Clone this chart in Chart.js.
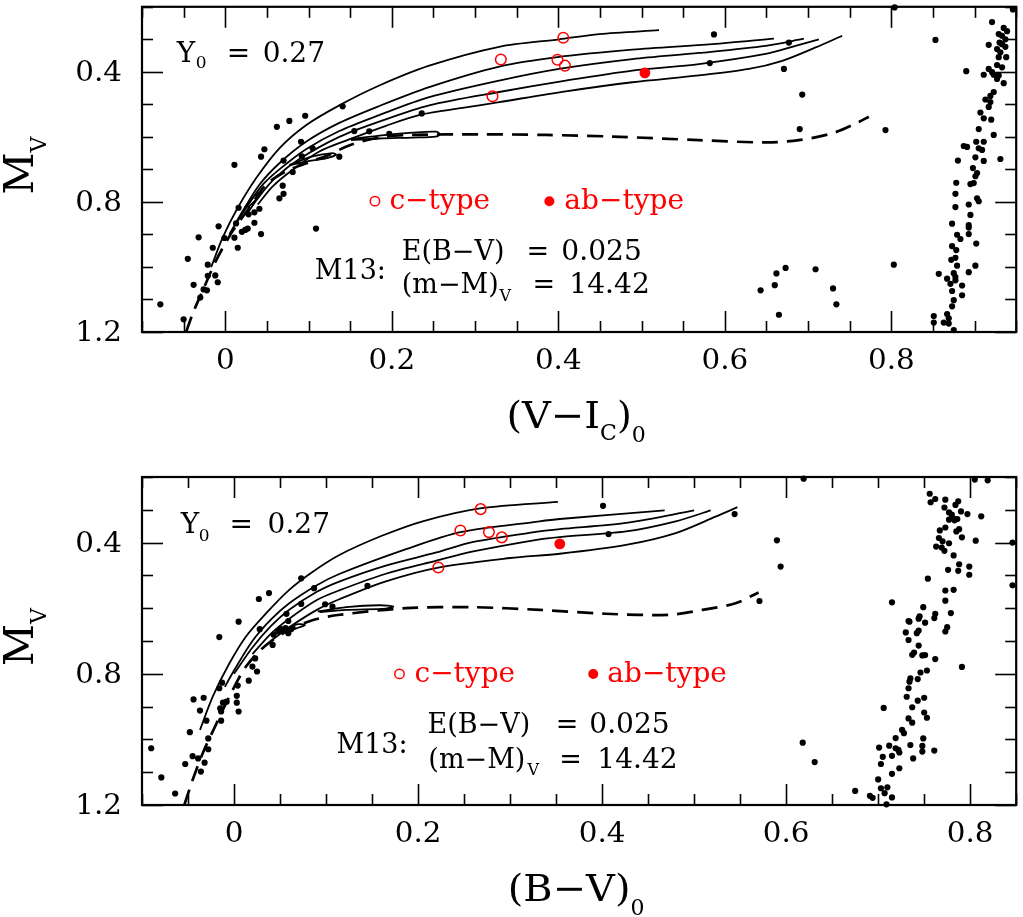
<!DOCTYPE html>
<html><head><meta charset="utf-8">
<script src="https://cdn.jsdelivr.net/npm/chart.js@4.4.1/dist/chart.umd.min.js"></script>
<style>
html,body{margin:0;padding:0;background:#fff;}
#wrap{position:relative;width:1023px;height:917px;overflow:hidden;background:#fff;}
canvas{position:absolute;left:0;}
</style></head><body>
<div id="wrap">
<canvas id="c1" width="1023" height="460" style="top:0px"></canvas>
<canvas id="c2" width="1023" height="457" style="top:460px"></canvas>
</div>
<script>
// ---------------- DATA: top panel (V-I)0 vs MV ----------------
const topField = [[-0.078,1.115],[-0.050,1.161],[-0.045,0.975],[-0.038,1.055],[-0.032,0.909],[-0.030,1.094],[-0.026,1.069],[-0.022,1.072],[-0.021,0.993],[-0.021,1.027],[-0.015,0.941],[-0.012,1.026],[-0.009,1.047],[-0.008,0.875],[-0.001,0.911],[0.011,0.686],[0.011,0.910],[0.013,0.866],[0.015,0.941],[0.016,0.818],[0.020,0.892],[0.024,0.886],[0.027,0.882],[0.028,0.838],[0.035,0.864],[0.035,0.832],[0.041,0.821],[0.043,0.899],[0.043,0.661],[0.047,0.638],[0.062,0.569],[0.077,0.551],[0.096,0.535],[0.065,0.789],[0.070,0.775],[0.069,0.750],[0.070,0.673],[0.081,0.708],[0.091,0.615],[0.092,0.660],[0.105,0.635],[0.109,0.882],[0.137,0.661],[0.141,0.506],[0.155,0.582],[0.173,0.583],[0.197,0.591],[0.236,0.528],[0.587,0.285],[0.677,0.310],[0.582,0.373],[0.671,0.391],[0.693,0.470],[0.690,0.576],[0.793,0.579],[0.804,0.202],[0.853,0.302],[0.890,0.398],[0.946,0.208],[0.643,1.072],[0.660,1.056],[0.662,1.020],[0.673,1.003],[0.665,1.147],[0.709,1.007],[0.730,1.066],[0.734,1.115],[0.803,0.993]];
const topRGB = [[0.921,0.247],[0.935,0.265],[0.939,0.275],[0.929,0.284],[0.933,0.289],[0.937,0.300],[0.930,0.310],[0.933,0.315],[0.917,0.317],[0.927,0.330],[0.937,0.323],[0.931,0.340],[0.929,0.355],[0.938,0.355],[0.927,0.379],[0.933,0.386],[0.917,0.391],[0.921,0.401],[0.911,0.409],[0.923,0.409],[0.929,0.411],[0.927,0.422],[0.935,0.435],[0.923,0.462],[0.919,0.474],[0.913,0.485],[0.919,0.493],[0.917,0.508],[0.907,0.525],[0.911,0.543],[0.920,0.547],[0.923,0.594],[0.905,0.576],[0.902,0.615],[0.911,0.615],[0.905,0.635],[0.887,0.628],[0.891,0.631],[0.909,0.640],[0.901,0.663],[0.911,0.674],[0.931,0.668],[0.880,0.673],[0.898,0.696],[0.903,0.711],[0.901,0.721],[0.895,0.745],[0.899,0.742],[0.878,0.741],[0.877,0.775],[0.903,0.789],[0.905,0.798],[0.893,0.808],[0.877,0.816],[0.895,0.840],[0.873,0.867],[0.893,0.871],[0.893,0.879],[0.879,0.901],[0.883,0.914],[0.902,0.928],[0.893,0.899],[0.873,0.936],[0.878,0.948],[0.877,0.972],[0.872,0.978],[0.879,0.996],[0.901,0.996],[0.893,1.016],[0.857,1.021],[0.867,1.036],[0.875,1.019],[0.877,1.031],[0.871,1.052],[0.877,1.041],[0.885,1.057],[0.873,1.074],[0.885,1.087],[0.875,1.102],[0.873,1.121],[0.851,1.151],[0.867,1.145],[0.869,1.158],[0.851,1.171],[0.863,1.171],[0.875,1.194],[0.869,1.174]];
const topCtype = [[0.406,0.295],[0.331,0.362],[0.399,0.363],[0.408,0.381],[0.321,0.475]];
const topABtype = [[0.504,0.403]];
const topTrackA = [[-0.017,1.001],[-0.003,0.909],[0.015,0.818],[0.037,0.727],[0.065,0.635],[0.097,0.564],[0.137,0.503],[0.185,0.442],[0.245,0.381],[0.329,0.323],[0.401,0.300],[0.449,0.284],[0.521,0.272]];
const topTrackB = [[0.005,0.899],[0.021,0.828],[0.041,0.747],[0.065,0.681],[0.097,0.615],[0.137,0.557],[0.185,0.505],[0.245,0.447],[0.329,0.384],[0.399,0.355],[0.489,0.332],[0.585,0.315],[0.659,0.298]];
const topTrackC = [[0.015,0.859],[0.029,0.803],[0.045,0.747],[0.065,0.700],[0.097,0.638],[0.137,0.582],[0.185,0.533],[0.245,0.478],[0.329,0.427],[0.401,0.391],[0.489,0.361],[0.569,0.342],[0.649,0.320],[0.695,0.298]];
const topTrackD = [[0.027,0.833],[0.041,0.782],[0.061,0.724],[0.089,0.668],[0.137,0.600],[0.185,0.553],[0.245,0.503],[0.329,0.462],[0.409,0.427],[0.489,0.396],[0.569,0.376],[0.649,0.345],[0.685,0.320],[0.713,0.300]];
const topTrackE = [[0.039,0.808],[0.057,0.752],[0.081,0.701],[0.113,0.645],[0.153,0.604],[0.193,0.566],[0.236,0.531],[0.285,0.511],[0.329,0.493],[0.409,0.460],[0.489,0.432],[0.569,0.411],[0.629,0.391],[0.669,0.366],[0.709,0.325],[0.741,0.289]];
const topLoop1 = [[0.151,0.607],[0.185,0.596],[0.225,0.587],[0.253,0.584],[0.258,0.592],[0.253,0.599],[0.225,0.602],[0.185,0.605],[0.151,0.610]];
const topLoop2 = [[0.077,0.686],[0.105,0.660],[0.129,0.650],[0.133,0.655],[0.121,0.666],[0.097,0.676],[0.077,0.688]];
const topLoop3 = [[0.023,0.818],[0.037,0.777],[0.043,0.769],[0.041,0.782],[0.027,0.818]];
const topZAHB = [[-0.047,1.2],[-0.039,1.143],[-0.027,1.072],[-0.011,0.980],[0.009,0.889],[0.029,0.818],[0.049,0.747],[0.073,0.706],[0.105,0.674],[0.125,0.655],[0.145,0.630],[0.165,0.613],[0.193,0.599],[0.225,0.594],[0.305,0.592],[0.385,0.594],[0.465,0.599],[0.569,0.610],[0.649,0.617],[0.689,0.610],[0.729,0.589],[0.761,0.554],[0.773,0.538]];

// ---------------- DATA: bottom panel (B-V)0 vs MV ----------------
const botField = [[-0.090,1.027],[-0.079,1.116],[-0.064,1.165],[-0.053,1.075],[-0.045,1.051],[-0.039,1.058],[-0.032,1.071],[-0.036,1.098],[-0.048,0.978],[-0.044,0.878],[-0.033,0.873],[-0.037,0.912],[-0.028,0.997],[-0.028,1.030],[-0.030,0.943],[-0.016,0.688],[-0.013,0.827],[-0.015,0.905],[-0.014,0.915],[-0.014,0.943],[-0.008,0.885],[-0.012,0.888],[-0.016,0.844],[0.004,0.836],[0.003,0.867],[0.003,0.888],[0.005,0.915],[0.005,0.641],[0.016,0.821],[0.020,0.778],[0.025,0.793],[0.023,0.753],[0.027,0.572],[0.038,0.554],[0.028,0.664],[0.042,0.712],[0.043,0.681],[0.048,0.671],[0.051,0.664],[0.056,0.661],[0.059,0.676],[0.062,0.664],[0.059,0.639],[0.057,0.617],[0.073,0.587],[0.073,0.509],[0.087,0.539],[0.099,0.588],[0.107,0.595],[0.145,0.532],[0.401,0.288],[0.407,0.374],[0.619,0.205],[0.544,0.313],[0.590,0.393],[0.594,0.473],[0.571,0.578],[0.618,1.010],[0.631,1.069],[0.715,0.582],[0.706,0.904],[0.791,0.779],[0.805,0.208],[0.819,0.210],[0.812,0.320],[0.806,0.394],[0.846,0.400],[0.846,0.530],[0.754,0.510]];
const botRGB = [[0.756,0.251],[0.757,0.277],[0.762,0.267],[0.773,0.269],[0.772,0.293],[0.777,0.308],[0.784,0.285],[0.787,0.274],[0.780,0.315],[0.782,0.327],[0.786,0.328],[0.790,0.305],[0.797,0.313],[0.777,0.330],[0.783,0.332],[0.773,0.354],[0.785,0.366],[0.788,0.359],[0.767,0.363],[0.791,0.384],[0.766,0.386],[0.770,0.396],[0.777,0.402],[0.763,0.412],[0.769,0.415],[0.772,0.425],[0.782,0.439],[0.776,0.483],[0.788,0.466],[0.787,0.486],[0.799,0.473],[0.799,0.498],[0.773,0.546],[0.782,0.544],[0.773,0.577],[0.779,0.615],[0.773,0.671],[0.775,0.658],[0.749,0.597],[0.745,0.625],[0.744,0.632],[0.734,0.641],[0.733,0.639],[0.761,0.630],[0.762,0.617],[0.751,0.644],[0.762,0.755],[0.730,0.674],[0.733,0.697],[0.744,0.668],[0.742,0.676],[0.744,0.714],[0.739,0.735],[0.737,0.742],[0.748,0.744],[0.751,0.743],[0.746,0.796],[0.753,0.790],[0.735,0.814],[0.734,0.824],[0.733,0.844],[0.743,0.816],[0.731,0.870],[0.743,0.882],[0.750,0.873],[0.737,0.902],[0.750,0.918],[0.753,0.934],[0.733,0.936],[0.737,0.949],[0.726,0.971],[0.728,0.981],[0.719,0.996],[0.749,0.997],[0.735,1.017],[0.748,1.020],[0.748,1.037],[0.761,1.034],[0.712,1.019],[0.719,1.027],[0.722,1.032],[0.723,1.040],[0.715,1.050],[0.701,1.025],[0.705,1.053],[0.738,1.058],[0.723,1.088],[0.715,1.105],[0.703,1.075],[0.700,1.122],[0.703,1.149],[0.710,1.146],[0.707,1.164],[0.715,1.177],[0.675,1.157],[0.691,1.172],[0.694,1.178],[0.709,1.198]];
const botCtype = [[0.268,0.298],[0.246,0.363],[0.277,0.368],[0.291,0.384],[0.222,0.476]];
const botABtype = [[0.354,0.404]];
const botTrackA = [[-0.037,0.971],[-0.023,0.869],[-0.005,0.768],[0.013,0.686],[0.035,0.615],[0.060,0.544],[0.086,0.488],[0.115,0.437],[0.160,0.380],[0.205,0.335],[0.269,0.295],[0.352,0.276]];
const botTrackB = [[-0.010,0.840],[0.000,0.790],[0.020,0.700],[0.040,0.635],[0.060,0.585],[0.090,0.530],[0.115,0.495],[0.187,0.420],[0.246,0.368],[0.332,0.335],[0.354,0.328],[0.468,0.302]];
const botTrackC = [[0.000,0.800],[0.020,0.720],[0.040,0.655],[0.060,0.605],[0.090,0.550],[0.115,0.518],[0.165,0.470],[0.220,0.430],[0.260,0.398],[0.332,0.366],[0.354,0.359],[0.426,0.340],[0.500,0.302]];
const botTrackD = [[0.020,0.740],[0.040,0.678],[0.060,0.632],[0.090,0.575],[0.115,0.545],[0.165,0.495],[0.220,0.455],[0.260,0.427],[0.332,0.390],[0.354,0.383],[0.426,0.366],[0.480,0.335],[0.518,0.302]];
const botTrackE = [[0.040,0.700],[0.060,0.658],[0.090,0.605],[0.115,0.572],[0.165,0.518],[0.222,0.476],[0.300,0.447],[0.354,0.434],[0.426,0.407],[0.480,0.371],[0.524,0.320],[0.547,0.292]];
const botLoop1 = [[0.091,0.610],[0.122,0.597],[0.158,0.591],[0.173,0.595],[0.165,0.601],[0.122,0.605],[0.093,0.612]];
const botLoop2 = [[0.057,0.666],[0.068,0.649],[0.077,0.651],[0.071,0.658],[0.059,0.671]];
const botZAHB = [[-0.054,1.200],[-0.045,1.124],[-0.034,1.042],[-0.019,0.951],[-0.005,0.869],[0.013,0.778],[0.035,0.712],[0.060,0.666],[0.086,0.636],[0.115,0.620],[0.187,0.600],[0.260,0.597],[0.332,0.605],[0.404,0.617],[0.473,0.620],[0.509,0.605],[0.545,0.585],[0.570,0.552]];

// ---------------- axes / tick labels ----------------
const topXRange = [-0.1, 0.95];
const botXRange = [-0.1, 0.85];
const yRange = [0.2, 1.2];
const xTickLabels = ['0', '0.2', '0.4', '0.6', '0.8'];
const yTickLabels = ['0.4', '0.8', '1.2'];

// ---------------- rendering ----------------
const SERIF = '"DejaVu Serif", "Liberation Serif", serif';
const RED = '#ff0000';
const P = a => a.map(([x, y]) => ({x, y}));

function lineDS(arr, dashed) {
  return {data: P(arr), showLine: true, pointRadius: 0, borderColor: '#000',
    borderWidth: dashed ? 2.7 : 1.8, borderDash: dashed ? [16, 9] : [], tension: 0.3,
    fill: false, clip: 0};
}
function dotDS(arr) {
  return {data: P(arr), showLine: false, pointRadius: 3.1, pointHoverRadius: 3.1,
    backgroundColor: '#000', borderWidth: 0, pointBorderWidth: 0, clip: 4};
}

function drawText(ctx, t, x, y, size, sx) {
  ctx.font = size + 'px ' + SERIF;
  ctx.save();
  ctx.translate(x, y);
  ctx.scale(sx || 1, 1);
  ctx.fillText(t, 0, 0);
  ctx.restore();
  return ctx.measureText(t).width * (sx || 1);
}

function decor(cfg) {
  return {
    id: 'decor',
    afterDraw(chart) {
      const {ctx, chartArea: a, scales: {x, y}} = chart;
      ctx.save();
      ctx.strokeStyle = '#000'; ctx.fillStyle = '#000';
      const ln = (x1, y1, x2, y2) => { ctx.beginPath(); ctx.moveTo(x1, y1); ctx.lineTo(x2, y2); ctx.stroke(); };
      // ticks (inward, all sides)
      ctx.lineWidth = 1.6;
      const nx = Math.round((cfg.xr[1] - cfg.xr[0]) / 0.05);
      for (let i = 0; i <= nx; i++) {
        const v = cfg.xr[0] + i * 0.05;
        const q = v / 0.2, major = Math.abs(q - Math.round(q)) < 1e-6;
        const L = major ? 21 : 11, px = Math.round(x.getPixelForValue(v)) + 0.5;
        ln(px, a.bottom, px, a.bottom - L); ln(px, a.top, px, a.top + L);
      }
      const ny = Math.round((yRange[1] - yRange[0]) / 0.1);
      for (let i = 0; i <= ny; i++) {
        const v = yRange[0] + i * 0.1;
        const q = v / 0.4, major = Math.abs(q - Math.round(q)) < 1e-6;
        const L = major ? 21 : 11, py = Math.round(y.getPixelForValue(v)) + 0.5;
        ln(a.left, py, a.left + L, py); ln(a.right, py, a.right - L, py);
      }
      // frame
      ctx.lineWidth = 2.2;
      ctx.strokeRect(a.left, a.top, a.right - a.left, a.bottom - a.top);
      // tick labels
      ctx.textBaseline = 'middle';
      ctx.font = '28px ' + SERIF;
      xTickLabels.forEach(s => {
        const w = ctx.measureText(s).width * 1.05;
        drawText(ctx, s, x.getPixelForValue(parseFloat(s)) - w / 2, a.bottom + 30, 28, 1.05);
      });
      yTickLabels.forEach(s => {
        ctx.font = '28px ' + SERIF;
        const w = ctx.measureText(s).width * 1.05;
        drawText(ctx, s, a.left - 20 - w, y.getPixelForValue(parseFloat(s)) + 2, 28, 1.05);
      });
      ctx.textBaseline = 'alphabetic'; ctx.textAlign = 'left';
      // annotations
      cfg.notes.forEach(n => {
        ctx.fillStyle = n.color || '#000';
        drawText(ctx, n.t, x.getPixelForValue(n.x), y.getPixelForValue(n.y), n.size, n.sx);
      });
      // legend symbols
      cfg.marks.forEach(m => {
        const px = x.getPixelForValue(m.x), py = y.getPixelForValue(m.y);
        ctx.beginPath(); ctx.arc(px, py, m.r, 0, Math.PI * 2);
        if (m.fill) { ctx.fillStyle = RED; ctx.fill(); }
        else { ctx.strokeStyle = RED; ctx.lineWidth = 1.5; ctx.stroke(); }
      });
      ctx.fillStyle = '#000'; ctx.strokeStyle = '#000';
      const pieces = (list, x0, y0) => {
        let xx = x0;
        list.forEach(p => { xx += drawText(ctx, p.t, xx, y0 + (p.dy || 0), p.size, p.sx) + (p.gap || 0); });
        return xx - x0;
      };
      const width = list => list.reduce((s, p) => { ctx.font = p.size + 'px ' + SERIF; return s + ctx.measureText(p.t).width * (p.sx || 1) + (p.gap || 0); }, 0);
      // x title
      const cx = (a.left + a.right) / 2 - 3;
      const w = width(cfg.xTitle);
      pieces(cfg.xTitle, cx - w / 2, a.bottom + 96);
      // y title (rotated)
      ctx.save();
      ctx.translate(a.left - 109, (a.top + a.bottom) / 2 + 25);
      ctx.rotate(-Math.PI / 2);
      pieces(cfg.yTitle, 0, 0);
      ctx.restore();
      ctx.restore();
    }
  };
}

function makeChart(id, xr, pad, d, cfg) {
  return new Chart(document.getElementById(id), {
    type: 'scatter',
    data: {datasets: [
      {...dotDS(d.ab), backgroundColor: RED, pointRadius: 5.4, pointHoverRadius: 5.4},
      {data: P(d.c), showLine: false, pointRadius: 5.3, pointHoverRadius: 5.3, backgroundColor: 'rgba(0,0,0,0)', borderColor: RED, pointBorderColor: RED, pointBorderWidth: 1.5, borderWidth: 1.5, clip: 4},
      dotDS(d.field), dotDS(d.rgb),
      ...d.tracks.map(t => lineDS(t, false)),
      ...d.loops.map(t => lineDS(t, false)),
      lineDS(d.zahb, true)
    ]},
    options: {
      responsive: false, animation: false, devicePixelRatio: 1,
      layout: {padding: pad},
      plugins: {legend: {display: false}, tooltip: {enabled: false}},
      scales: {
        x: {type: 'linear', min: xr[0], max: xr[1], display: false},
        y: {type: 'linear', min: yRange[0], max: yRange[1], reverse: true, display: false}
      }
    },
    plugins: [decor(cfg)]
  });
}

const yTitle = [{t: 'M', size: 41}, {t: 'V', size: 22, dy: 13}];

makeChart('c1', topXRange, {left: 142, right: 6, top: 4, bottom: 128}, {
  field: topField, rgb: topRGB, c: topCtype, ab: topABtype,
  tracks: [topTrackA, topTrackB, topTrackC, topTrackD, topTrackE],
  loops: [topLoop1, topLoop2, topLoop3], zahb: topZAHB
}, {
  xr: topXRange,
  xTitle: [{t: '(V\u2212I', size: 38, sx: 1.05}, {t: 'C', size: 22, dy: 12}, {t: ')', size: 38}, {t: '0', size: 22, dy: 14}],
  yTitle,
  notes: [
    {t: 'Y', x: -0.0583, y: 0.3707, size: 28}, {t: '0', x: -0.0355, y: 0.389, size: 17},
    {t: '=', x: 0.0017, y: 0.3707, size: 28}, {t: '0.27', x: 0.0449, y: 0.3707, size: 28},
    {t: 'c\u2212type', x: 0.1972, y: 0.822, size: 28, color: RED},
    {t: 'ab\u2212type', x: 0.4073, y: 0.822, size: 28, color: RED},
    {t: 'M13:', x: 0.1076, y: 1.0384, size: 27},
    {t: 'E(B\u2212V)', x: 0.212, y: 0.9774, size: 27}, {t: '=', x: 0.3617, y: 0.9774, size: 27}, {t: '0.025', x: 0.4037, y: 0.9774, size: 27, sx: 1.04},
    {t: '(m\u2212M)', x: 0.212, y: 1.081, size: 27}, {t: 'V', x: 0.3293, y: 1.1055, size: 16},
    {t: '=', x: 0.3689, y: 1.081, size: 27}, {t: '14.42', x: 0.4133, y: 1.081, size: 27, sx: 1.04}
  ],
  marks: [{x: 0.1798, y: 0.7976, r: 4.7, fill: false}, {x: 0.3893, y: 0.798, r: 5, fill: true}]
});

makeChart('c2', botXRange, {left: 142, right: 6, top: 17, bottom: 112}, {
  field: botField, rgb: botRGB, c: botCtype, ab: botABtype,
  tracks: [botTrackA, botTrackB, botTrackC, botTrackD, botTrackE],
  loops: [botLoop1, botLoop2], zahb: botZAHB
}, {
  xr: botXRange,
  xTitle: [{t: '(B\u2212V)', size: 38, sx: 1.05}, {t: '0', size: 22, dy: 14}],
  yTitle,
  notes: [
    {t: 'Y', x: -0.058, y: 0.3709, size: 28}, {t: '0', x: -0.0384, y: 0.394, size: 17},
    {t: '=', x: -0.0048, y: 0.3709, size: 28}, {t: '0.27', x: 0.0365, y: 0.3709, size: 28},
    {t: 'c\u2212type', x: 0.1961, y: 0.8237, size: 28, color: RED},
    {t: 'ab\u2212type', x: 0.4056, y: 0.8237, size: 28, color: RED},
    {t: 'M13:', x: 0.1114, y: 1.0404, size: 27},
    {t: 'E(B\u2212V)', x: 0.2102, y: 0.9794, size: 27}, {t: '=', x: 0.3496, y: 0.9794, size: 27}, {t: '0.025', x: 0.3861, y: 0.9794, size: 27, sx: 1.04},
    {t: '(m\u2212M)', x: 0.2112, y: 1.0862, size: 27}, {t: 'V', x: 0.3188, y: 1.1085, size: 16},
    {t: '=', x: 0.3535, y: 1.0862, size: 27}, {t: '14.42', x: 0.3948, y: 1.0862, size: 27, sx: 1.04}
  ],
  marks: [{x: 0.1798, y: 0.8003, r: 4.7, fill: false}, {x: 0.3904, y: 0.8006, r: 5, fill: true}]
});
</script>
</body></html>
